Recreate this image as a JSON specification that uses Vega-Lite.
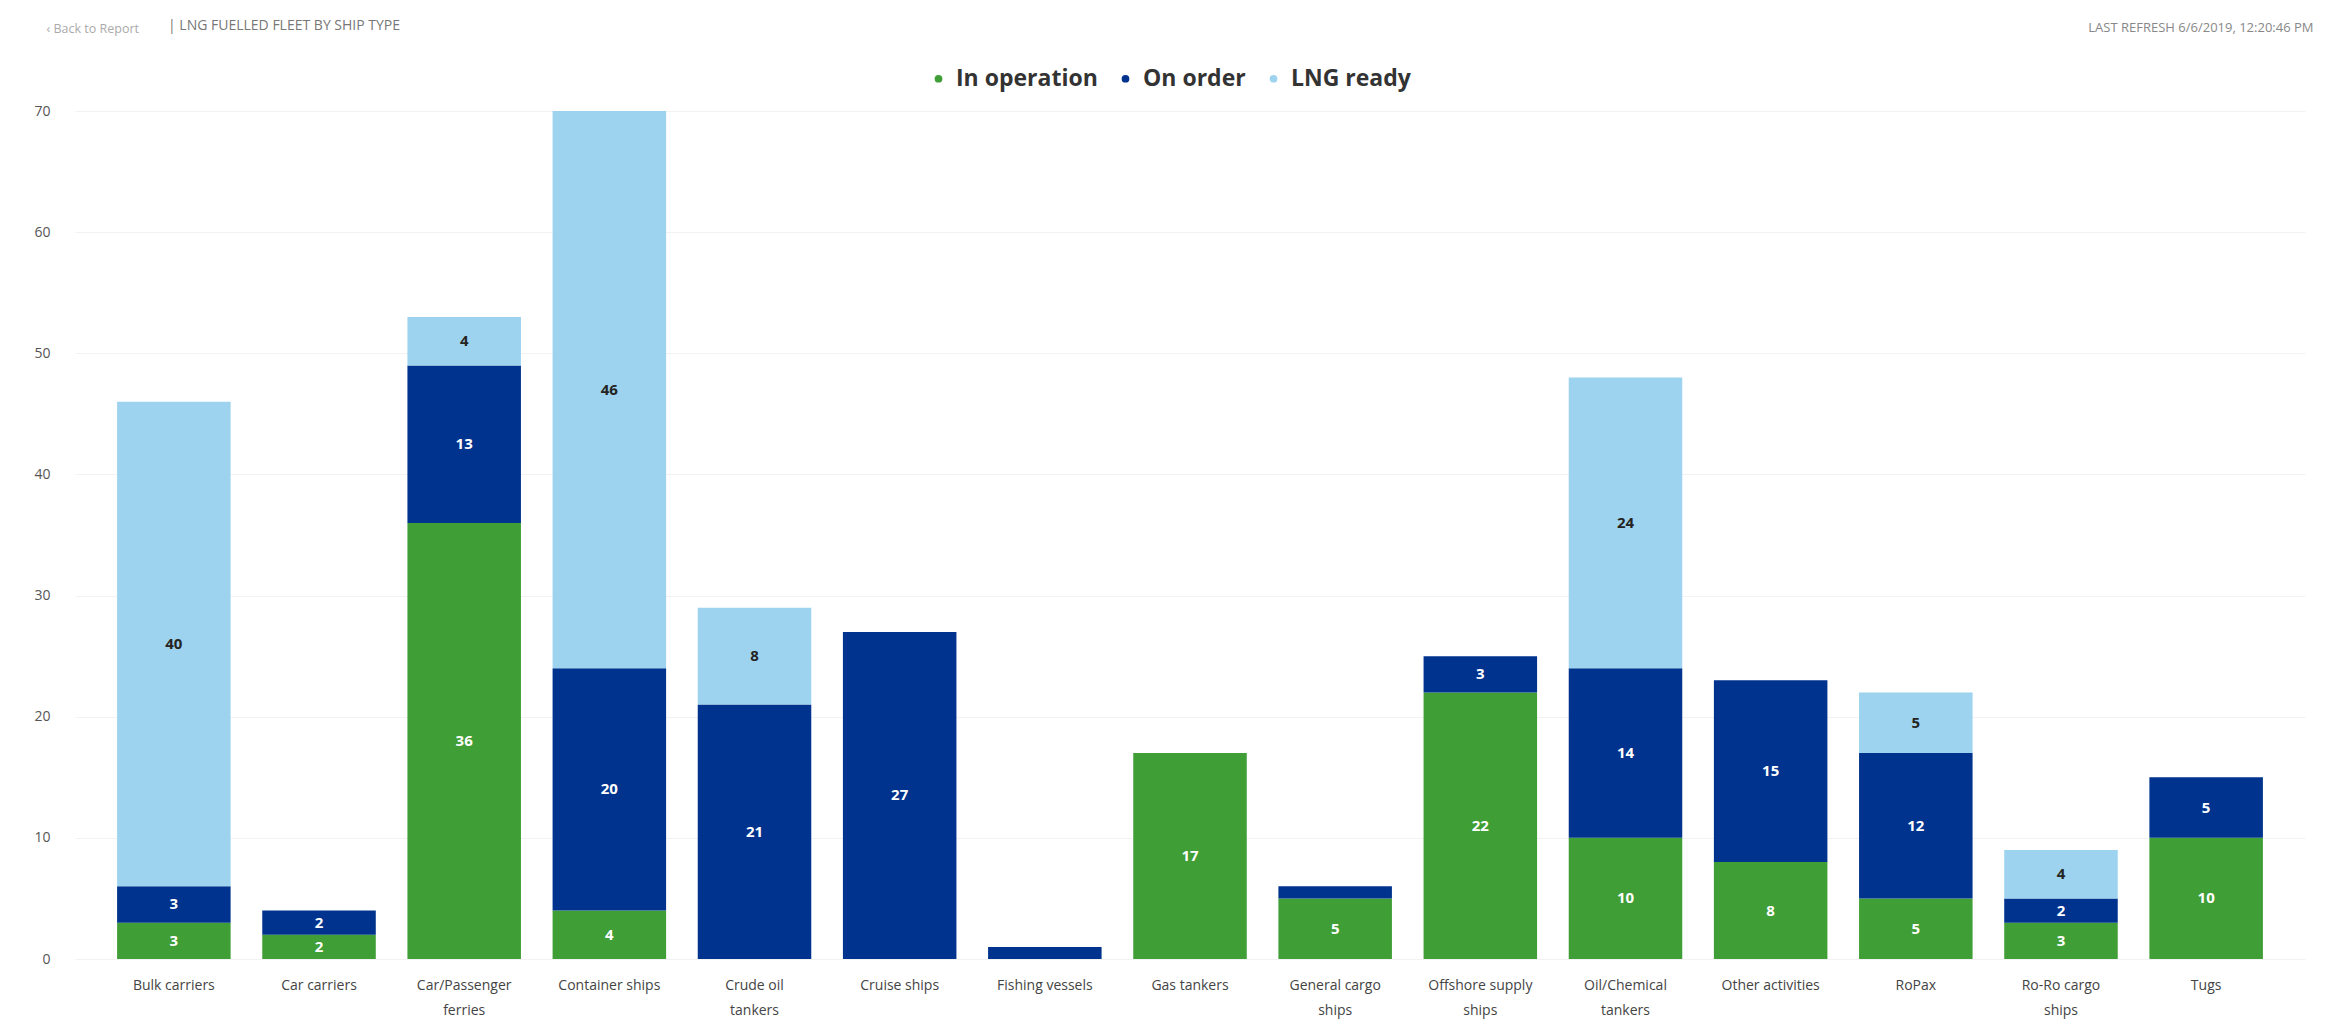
{
  "$schema": "https://vega.github.io/schema/vega-lite/v6.json",
  "width": 2230,
  "height": 848,
  "autosize": {"type": "none"},
  "padding": {"left": 75, "top": 111, "right": 26, "bottom": 64},
  "background": "white",
  "config": {"font": "Open Sans", "view": {"stroke": null}},
  "title": {
    "text": "|      LNG FUELLED FLEET BY SHIP TYPE",
    "anchor": "start",
    "frame": "group",
    "dx": 93,
    "offset": -19,
    "baseline": "middle",
    "fontSize": 14,
    "font": "Open Sans",
    "color": "#777777",
    "fontWeight": "normal"
  },
  "data": {
    "values": [
      {"type": "Bulk carriers", "series": "In operation", "value": 3},
      {"type": "Bulk carriers", "series": "On order", "value": 3},
      {"type": "Bulk carriers", "series": "LNG ready", "value": 40},
      {"type": "Car carriers", "series": "In operation", "value": 2},
      {"type": "Car carriers", "series": "On order", "value": 2},
      {"type": "Car/Passenger ferries", "series": "In operation", "value": 36},
      {"type": "Car/Passenger ferries", "series": "On order", "value": 13},
      {"type": "Car/Passenger ferries", "series": "LNG ready", "value": 4},
      {"type": "Container ships", "series": "In operation", "value": 4},
      {"type": "Container ships", "series": "On order", "value": 20},
      {"type": "Container ships", "series": "LNG ready", "value": 46},
      {"type": "Crude oil tankers", "series": "On order", "value": 21},
      {"type": "Crude oil tankers", "series": "LNG ready", "value": 8},
      {"type": "Cruise ships", "series": "On order", "value": 27},
      {"type": "Fishing vessels", "series": "On order", "value": 1},
      {"type": "Gas tankers", "series": "In operation", "value": 17},
      {"type": "General cargo ships", "series": "In operation", "value": 5},
      {"type": "General cargo ships", "series": "On order", "value": 1},
      {"type": "Offshore supply ships", "series": "In operation", "value": 22},
      {"type": "Offshore supply ships", "series": "On order", "value": 3},
      {"type": "Oil/Chemical tankers", "series": "In operation", "value": 10},
      {"type": "Oil/Chemical tankers", "series": "On order", "value": 14},
      {"type": "Oil/Chemical tankers", "series": "LNG ready", "value": 24},
      {"type": "Other activities", "series": "In operation", "value": 8},
      {"type": "Other activities", "series": "On order", "value": 15},
      {"type": "RoPax", "series": "In operation", "value": 5},
      {"type": "RoPax", "series": "On order", "value": 12},
      {"type": "RoPax", "series": "LNG ready", "value": 5},
      {"type": "Ro-Ro cargo ships", "series": "In operation", "value": 3},
      {"type": "Ro-Ro cargo ships", "series": "On order", "value": 2},
      {"type": "Ro-Ro cargo ships", "series": "LNG ready", "value": 4},
      {"type": "Tugs", "series": "In operation", "value": 10},
      {"type": "Tugs", "series": "On order", "value": 5}
    ]
  },
  "transform": [
    {"calculate": "indexof(['In operation','On order','LNG ready'], datum.series)", "as": "k"},
    {"stack": "value", "groupby": ["type"], "sort": [{"field": "k", "order": "ascending"}], "as": ["v0", "v1"]},
    {"calculate": "(datum.v0 + datum.v1) / 2", "as": "mid"}
  ],
  "encoding": {
    "x": {
      "field": "type",
      "type": "nominal",
      "sort": null,
      "scale": {"paddingInner": 0.218, "paddingOuter": 0.29},
      "axis": {
        "title": "LAST REFRESH 6/6/2019, 12:20:46 PM",
        "titleX": 2238,
        "titleY": -932,
        "titleAlign": "right",
        "titleBaseline": "middle",
        "titleFontSize": 13,
        "titleFontWeight": "normal",
        "titleColor": "#888888",
        "labelAngle": 0,
        "labelExpr": "length(datum.label) > 16 ? [substring(datum.label, 0, lastindexof(datum.label, ' ')), substring(datum.label, lastindexof(datum.label, ' ') + 1)] : datum.label",
        "labelFontSize": 14,
        "labelColor": "#444444",
        "labelPadding": 19,
        "labelLineHeight": 25,
        "labelBaseline": "top",
        "labelLimit": 0,
        "ticks": false,
        "domain": false,
        "grid": false
      }
    }
  },
  "layer": [
    {
      "mark": {"type": "bar"},
      "encoding": {
        "y": {
          "field": "v1",
          "type": "quantitative",
          "scale": {"domain": [0, 70], "nice": false},
          "axis": {
            "title": "‹     Back to Report",
            "titleX": -29,
            "titleY": -83,
            "titleAngle": 0,
            "titleAlign": "left",
            "titleBaseline": "middle",
            "titleFontSize": 12.5,
            "titleFontWeight": "normal",
            "titleColor": "#aaaaaa",
            "values": [0, 10, 20, 30, 40, 50, 60, 70],
            "grid": true,
            "gridColor": "#f2f2f2",
            "domain": false,
            "ticks": false,
            "labelPadding": 25,
            "labelFontSize": 14,
            "labelColor": "#555555"
          }
        },
        "y2": {"field": "v0"},
        "color": {
          "field": "series",
          "type": "nominal",
          "scale": {"domain": ["In operation", "On order", "LNG ready"], "range": ["#3F9E36", "#00338D", "#9DD3EE"]},
          "legend": {
            "orient": "none",
            "legendX": 852,
            "legendY": -44,
            "direction": "horizontal",
            "title": null,
            "symbolType": "circle",
            "symbolSize": 60,
            "labelFontSize": 23,
            "labelFontWeight": "bold",
            "labelColor": "#333333",
            "labelFont": "Open Sans",
            "columnPadding": 16,
            "labelOffset": 6,
            "padding": 0
          }
        }
      }
    },
    {
      "transform": [{"filter": "datum.value >= 2"}],
      "mark": {"type": "text", "fontSize": 15, "fontWeight": "bold", "baseline": "middle", "align": "center"},
      "encoding": {
        "y": {
          "field": "mid",
          "type": "quantitative",
          "axis": {
            "title": "‹     Back to Report",
            "titleX": -29,
            "titleY": -83,
            "titleAngle": 0,
            "titleAlign": "left",
            "titleBaseline": "middle",
            "titleFontSize": 12.5,
            "titleFontWeight": "normal",
            "titleColor": "#aaaaaa",
            "values": [0, 10, 20, 30, 40, 50, 60, 70],
            "grid": true,
            "gridColor": "#f2f2f2",
            "domain": false,
            "ticks": false,
            "labelPadding": 25,
            "labelFontSize": 14,
            "labelColor": "#555555"
          }
        },
        "text": {"field": "value", "type": "quantitative"},
        "color": {
          "condition": {"test": "datum.series == 'LNG ready'", "value": "#252423"},
          "value": "#ffffff"
        }
      }
    }
  ]
}
